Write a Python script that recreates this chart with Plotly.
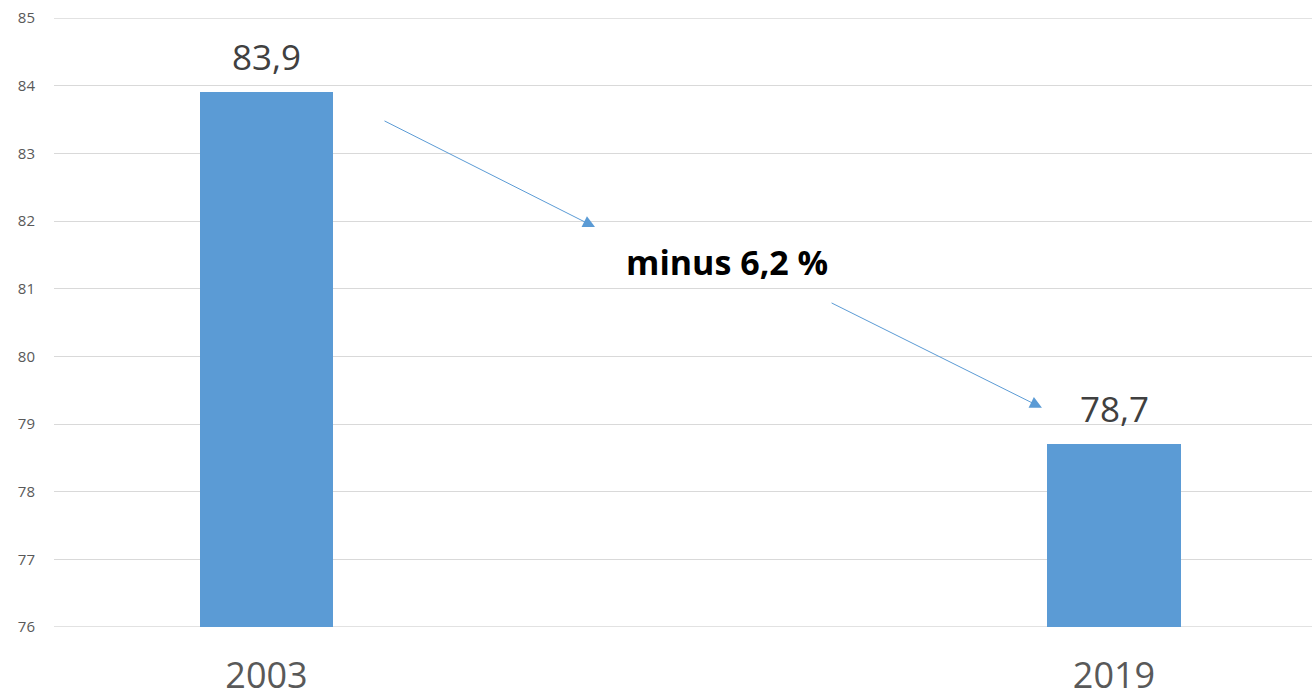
import plotly.graph_objects as go

# Values shown on the chart
years = ["2003", "2019"]
values = [83.9, 78.7]
value_labels = ["83,9", "78,7"]
change_label = "minus 6,2 %"
y_min, y_max = 76, 85

bar_color = "#5B9BD5"
grid_color = "#D9D9D9"
xpos = list(range(len(years)))

fig = go.Figure()
fig.add_trace(go.Bar(
    x=xpos,
    y=values,
    width=0.157,
    marker=dict(color=bar_color, line=dict(width=0)),
    hoverinfo="skip",
))

# Value labels above each bar
for xv, yv, lab in zip(xpos, values, value_labels):
    fig.add_annotation(
        x=xv, y=yv, xref="x", yref="y", text=lab, showarrow=False,
        yanchor="bottom", yshift=10,
        font=dict(family="Open Sans", size=35, color="#404040"),
    )

# Trend arrows between the two bars, with the change label in between
arrows = [
    ((0.1375, 83.49), (0.3876, 81.91)),
    ((0.665, 80.80), (0.915, 79.24)),
]
for (x0, y0), (x1, y1) in arrows:
    fig.add_annotation(
        x=x1, y=y1, ax=x0, ay=y0,
        xref="x", yref="y", axref="x", ayref="y",
        showarrow=True, arrowhead=2, arrowsize=2.4, arrowwidth=1,
        arrowcolor=bar_color, text="",
    )

fig.add_annotation(
    x=0.5435, y=81.39, xref="x", yref="y",
    text="<b>" + change_label + "</b>", showarrow=False,
    font=dict(family="Open Sans", size=34, color="#000000"),
)

# Gridlines at the range edges (top line and the base line)
for yv in (y_min, y_max):
    fig.add_shape(
        type="line", xref="paper", yref="y", x0=0, x1=1, y0=yv, y1=yv,
        line=dict(color=grid_color, width=1.5), layer="below",
    )

fig.update_layout(
    width=1312, height=698,
    margin=dict(l=54, r=0, t=18, b=71),
    paper_bgcolor="white", plot_bgcolor="white",
    showlegend=False,
    bargap=0,
)
fig.update_xaxes(
    range=[-0.2507, 1.2336],
    tickvals=xpos, ticktext=years,
    showgrid=False, zeroline=False, showline=False,
    ticks="", ticklabelstandoff=24, automargin=False,
    tickfont=dict(family="Open Sans", size=36, color="#595959"),
)
fig.update_yaxes(
    range=[y_min, y_max], tickvals=list(range(y_min, y_max + 1)),
    showgrid=True, gridcolor=grid_color, gridwidth=1,
    zeroline=False, showline=False,
    ticks="", ticklabelstandoff=18, automargin=False,
    tickfont=dict(family="Open Sans", size=15, color="#595959"),
)

fig.write_html("out.html")
